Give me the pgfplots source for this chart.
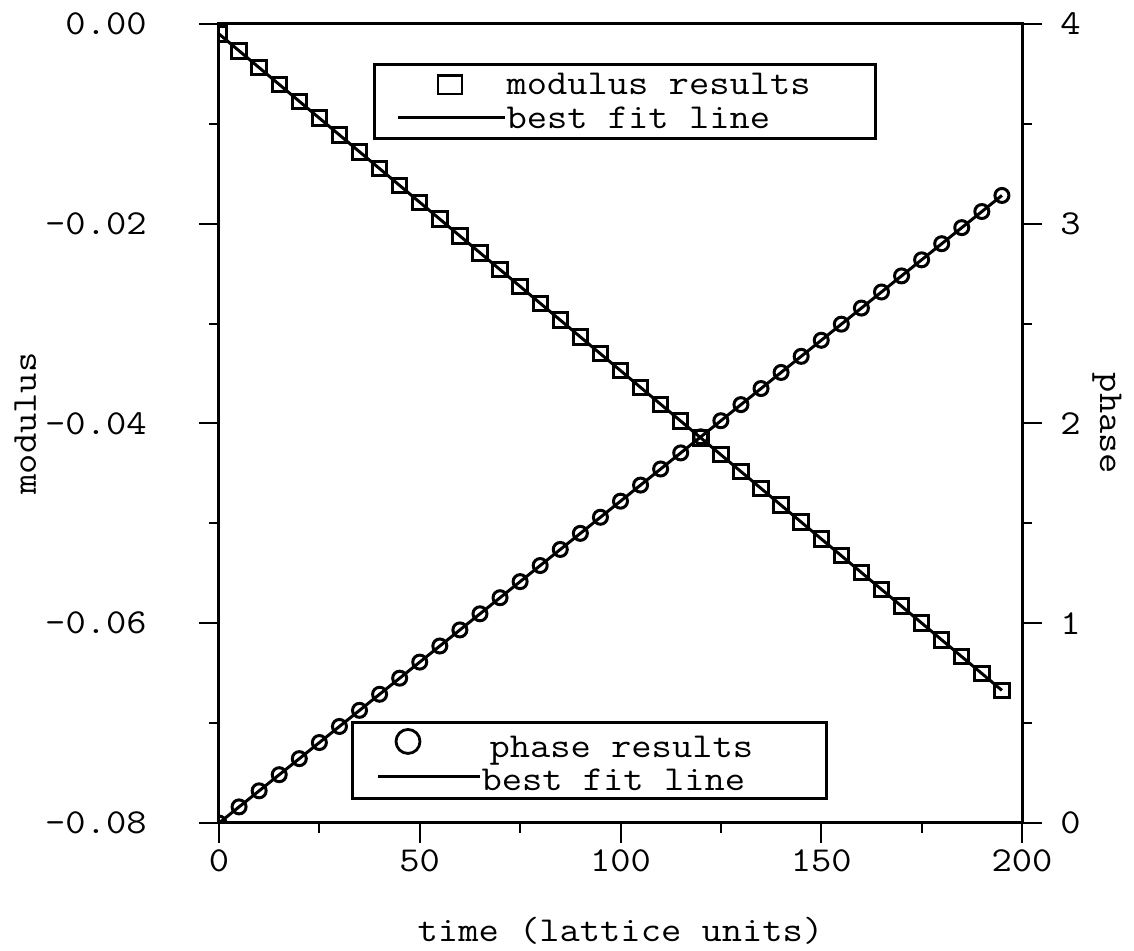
\documentclass[border=0pt]{standalone}
\usepackage{fontspec}
\usepackage{pgfplots}
\usepackage{pgfplotstable}
\pgfplotsset{compat=1.18}

% typewriter face used for every piece of text in the figure
\newfontfamily\plotfont[FakeStretch=1.125]{Latin Modern Mono}
\newcommand\pf{\plotfont\fontsize{17.5pt}{21pt}\selectfont}
\newcommand\tl[1]{\mbox{\pf #1}}

% measured modulus and phase against time
\pgfplotstableread{
t    modulus   phase
0    -0.00100  0.0000
5    -0.00269  0.0806
10   -0.00437  0.1611
15   -0.00606  0.2417
20   -0.00774  0.3222
25   -0.00943  0.4028
30   -0.01111  0.4833
35   -0.01280  0.5639
40   -0.01448  0.6444
45   -0.01617  0.7250
50   -0.01785  0.8055
55   -0.01954  0.8861
60   -0.02122  0.9666
65   -0.02291  1.0472
70   -0.02459  1.1278
75   -0.02628  1.2083
80   -0.02796  1.2889
85   -0.02965  1.3694
90   -0.03133  1.4500
95   -0.03302  1.5305
100  -0.03470  1.6111
105  -0.03639  1.6916
110  -0.03807  1.7722
115  -0.03976  1.8527
120  -0.04144  1.9333
125  -0.04313  2.0139
130  -0.04481  2.0944
135  -0.04650  2.1750
140  -0.04818  2.2555
145  -0.04987  2.3361
150  -0.05155  2.4166
155  -0.05324  2.4972
160  -0.05492  2.5777
165  -0.05661  2.6583
170  -0.05829  2.7389
175  -0.05998  2.8194
180  -0.06166  2.9000
185  -0.06335  2.9805
190  -0.06503  3.0611
195  -0.06672  3.1416
}\results

% straight-line fits (end points)
\pgfplotstableread{
t    modulus   phase
0    -0.00100  0.0000
195  -0.06672  3.1416
}\fits

\pgfplotsset{
  common/.style={
    at={(0pt,0pt)}, anchor=south west,
    scale only axis, width=401.5pt, height=399.5pt,
    xmin=0, xmax=200,
    tick align=outside,
    major tick length=10pt, minor tick length=5pt,
    axis line style={line width=1.5pt},
    every tick/.style={black, line width=1pt},
    tick label style={font=\pf, inner sep=0pt},
    clip marker paths=true,
    legend style={draw=black, line width=1.5pt, fill=white,
      column sep=0pt, cells={anchor=base west},
      nodes={inner sep=0pt, font=\pf}},
  },
}

\begin{document}
\begin{tikzpicture}
\useasboundingbox (-109.5pt,-64pt) rectangle (457.5pt,411.5pt);

% modulus on the left axis
\begin{axis}[common,
  ymin=-0.08, ymax=0,
  xtick={0,50,100,150,200},
  xticklabels={\tl{0},\tl{50},\tl{100},\tl{150},\tl{200}},
  ytick={-0.08,-0.06,-0.04,-0.02,0},
  yticklabels={\tl{-0.08},\tl{-0.06},\tl{-0.04},\tl{-0.02},\tl{0.00}},
  minor x tick num=1, minor y tick num=1,
  xtick pos=left, ytick pos=left,
  xticklabel style={anchor=north, yshift=-3pt},
  yticklabel style={anchor=east, xshift=-26pt},
  xlabel={time (lattice units)}, ylabel={modulus},
  every axis x label/.style={at={(axis description cs:0.5,0)}, anchor=base,
    yshift=-59.5pt, font=\pf},
  every axis y label/.style={at={(axis description cs:0,0.5)}, anchor=base,
    xshift=-91.5pt, rotate=90, font=\pf},
  legend style={at={(axis description cs:0.1918,0.9512)}, anchor=north west,
    inner xsep=11pt, inner ysep=1.2pt, row sep=0pt,
    nodes={text height=13.65pt, text depth=3.65pt}},
]
\addplot[only marks, mark=square, mark size=3.6pt, mark options={line width=1.5pt},
  legend image code/.code={
    \path[draw=none] (0pt,0pt) -- (53.5pt,0pt);
    \draw plot[only marks, mark=square, mark size=4.6pt,
      mark options={xscale=1.3, line width=1.3pt}] coordinates {(26pt,4.6pt)};
  }] table[x=t, y=modulus] {\results};
\addlegendentry{\makebox[173.5pt][l]{modulus results}}
\addplot[line width=1.5pt, no marks,
  legend image code/.code={
    \draw[line width=1.5pt] (0pt,5.8pt) -- (53.5pt,5.8pt);
  }] table[x=t, y=modulus] {\fits};
\addlegendentry{best fit line}
\end{axis}

% phase on the right axis
\begin{axis}[common,
  ymin=0, ymax=4,
  hide x axis,
  axis y line*=right,
  ytick={0,1,2,3,4}, yticklabels={\tl{0},\tl{1},\tl{2},\tl{3},\tl{4}},
  minor y tick num=1,
  yticklabel style={anchor=west, xshift=9pt},
  ylabel={phase},
  every axis y label/.style={at={(axis description cs:1,0.5)}, anchor=base,
    xshift=39pt, rotate=-90, font=\pf},
  legend style={at={(axis description cs:0.1644,0.1277)}, anchor=north west,
    inner xsep=12pt, inner ysep=1.2pt, row sep=0pt,
    nodes={text height=13.5pt, text depth=3pt}},
]
\addplot[only marks, mark=o, mark size=3.5pt, mark options={line width=1.5pt},
  legend image code/.code={
    \path[draw=none] (0pt,0pt) -- (51pt,16.1pt);
    \draw plot[only marks, mark=o, mark size=6pt,
      mark options={line width=1.4pt}] coordinates {(15pt,7.8pt)};
  }] table[x=t, y=phase] {\results};
\addlegendentry{\makebox[160.5pt][l]{\hspace{4pt}phase results}}
\addplot[line width=1.5pt, no marks,
  legend image code/.code={
    \draw[line width=1.5pt] (0pt,7pt) -- (51pt,7pt);
  }] table[x=t, y=phase] {\fits};
\addlegendentry{best fit line}
\end{axis}
\end{tikzpicture}
\end{document}
